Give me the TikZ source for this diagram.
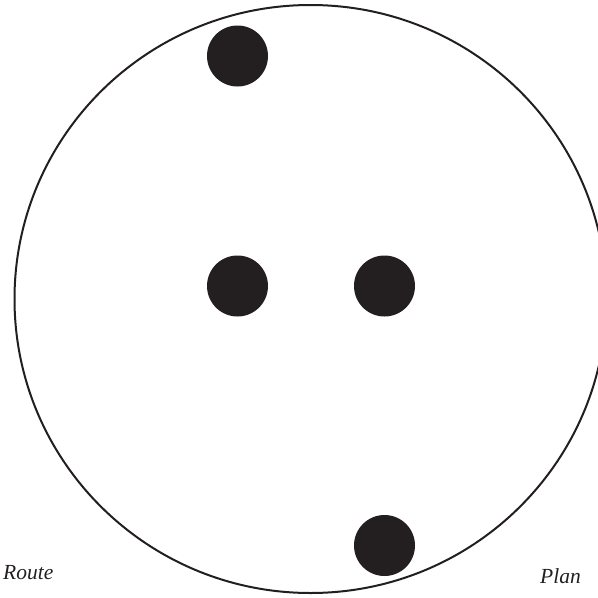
\documentclass[tikz,border=0pt]{standalone}
\usepackage{fontspec}
\setmainfont{Liberation Serif}
\usepackage{xcolor}
\usepackage{tikz}
\usetikzlibrary{positioning}

\definecolor{ink}{HTML}{231F20}

\begin{document}
\begin{tikzpicture}[
  x=1pt,y=-1pt,
  dot/.style={circle, fill=ink, draw=none, minimum size=61pt, inner sep=0pt},
  tag/.style={inner sep=0pt, anchor=base west, text=ink, font=\fontsize{21.5}{24}\selectfont\itshape}
]
\useasboundingbox (0,0) rectangle (598,598);
\draw[ink, line width=2pt] (310.5,299) ellipse [x radius=296, y radius=294];
\node[dot] (top) at (237.5,56) {};
\node[dot] (midl) at (237.5,286) {};
\node[dot] (midr) at (384.5,286) {};
\node[dot] (bot) at (384.5,545.5) {};
\node[tag] (route) at (3,579) {Route};
\node[tag] (plan) at (540,583) {Plan};
\end{tikzpicture}
\end{document}
